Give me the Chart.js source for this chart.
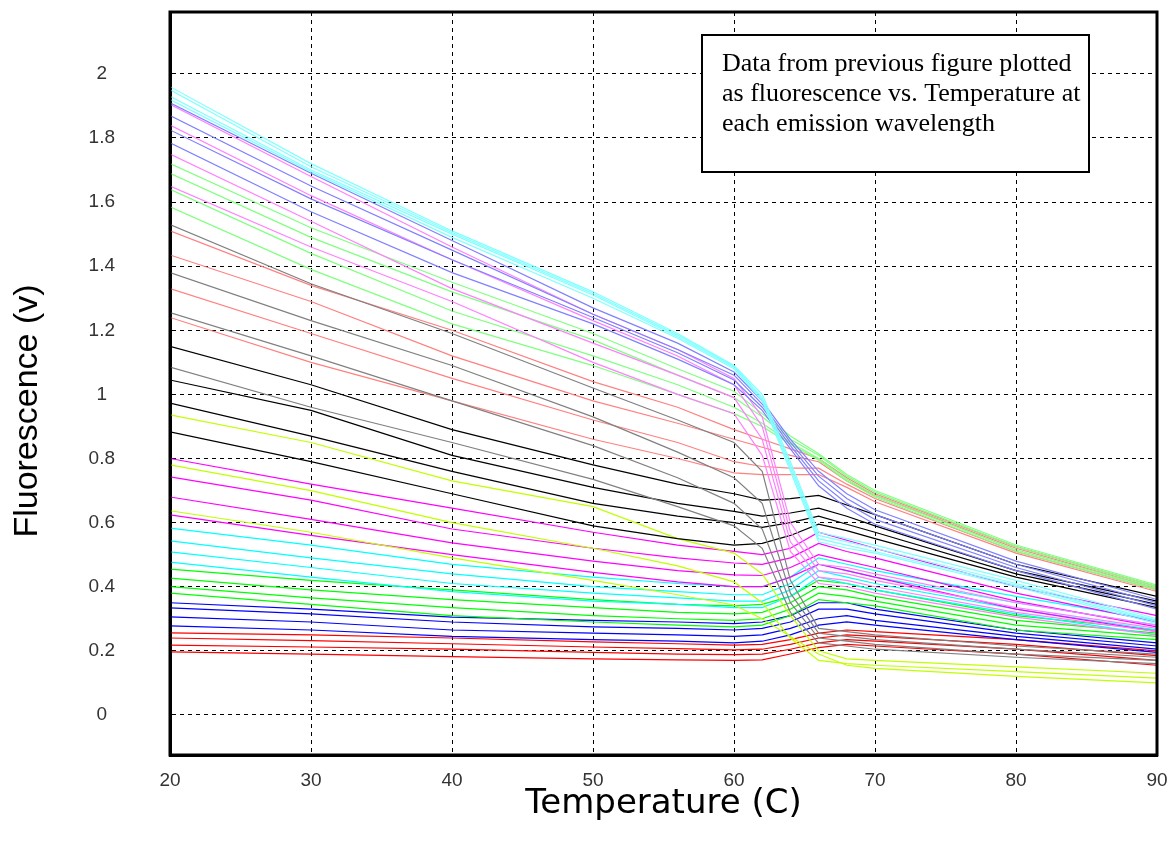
<!DOCTYPE html>
<html lang="en">
<head>
<meta charset="UTF-8">
<title>Fluorescence vs Temperature</title>
<script src="https://cdn.jsdelivr.net/npm/chart.js@4.4.1/dist/chart.umd.min.js"></script>
<style>
  html, body { margin: 0; padding: 0; background: #fff; }
  .chart-container { width: 1173px; height: 841px; }
</style>
</head>
<body>
<div class="chart-container"><canvas id="chart"></canvas></div>
<script>
const temps = [20, 30, 40, 50, 56, 60, 62, 64, 66, 68, 70, 80, 90];

// fluorescence (V), one row per emission wavelength, grouped by line colour
const lightCyan = [
  [1.96, 1.72, 1.51, 1.32, 1.19, 1.09, 1.00, 0.79, 0.57, 0.55, 0.53, 0.42, 0.30],
  [1.95, 1.71, 1.505, 1.315, 1.185, 1.088, 0.99, 0.78, 0.56, 0.54, 0.52, 0.41, 0.295],
  [1.93, 1.70, 1.50, 1.31, 1.18, 1.085, 0.985, 0.77, 0.55, 0.53, 0.51, 0.405, 0.29],
  [1.92, 1.695, 1.49, 1.30, 1.175, 1.08, 0.98, 0.76, 0.54, 0.52, 0.505, 0.40, 0.285]
];
const lightBlue = [
  [1.91, 1.69, 1.48, 1.27, 1.16, 1.07, 0.98, 0.86, 0.76, 0.69, 0.64, 0.48, 0.36],
  [1.87, 1.65, 1.45, 1.25, 1.14, 1.06, 0.97, 0.85, 0.745, 0.675, 0.625, 0.47, 0.35],
  [1.825, 1.61, 1.42, 1.24, 1.13, 1.045, 0.96, 0.84, 0.73, 0.66, 0.61, 0.46, 0.34],
  [1.785, 1.57, 1.38, 1.22, 1.11, 1.03, 0.95, 0.83, 0.715, 0.645, 0.595, 0.45, 0.33]
];
const lightMagenta = [
  [1.905, 1.68, 1.46, 1.25, 1.14, 1.05, 0.93, 0.60, 0.47, 0.46, 0.44, 0.35, 0.28],
  [1.84, 1.62, 1.42, 1.23, 1.12, 1.03, 0.90, 0.57, 0.45, 0.44, 0.42, 0.335, 0.27],
  [1.75, 1.54, 1.33, 1.16, 1.06, 0.99, 0.86, 0.54, 0.43, 0.42, 0.40, 0.32, 0.26],
  [1.65, 1.46, 1.29, 1.10, 1.00, 0.94, 0.81, 0.51, 0.41, 0.40, 0.38, 0.305, 0.25]
];
const lightGreen = [
  [1.72, 1.52, 1.35, 1.19, 1.08, 1.01, 0.94, 0.87, 0.815, 0.75, 0.70, 0.53, 0.405],
  [1.69, 1.49, 1.32, 1.17, 1.06, 0.99, 0.93, 0.86, 0.81, 0.745, 0.695, 0.525, 0.40],
  [1.64, 1.44, 1.26, 1.12, 1.03, 0.96, 0.91, 0.85, 0.80, 0.735, 0.685, 0.515, 0.395],
  [1.585, 1.39, 1.22, 1.09, 1.00, 0.94, 0.90, 0.845, 0.795, 0.73, 0.68, 0.51, 0.39]
];
const gray = [
  [1.53, 1.345, 1.19, 1.02, 0.92, 0.85, 0.76, 0.42, 0.27, 0.26, 0.25, 0.215, 0.19],
  [1.38, 1.23, 1.09, 0.93, 0.82, 0.74, 0.66, 0.38, 0.255, 0.245, 0.235, 0.205, 0.18],
  [1.255, 1.12, 0.98, 0.84, 0.74, 0.66, 0.58, 0.35, 0.24, 0.23, 0.22, 0.19, 0.17],
  [1.085, 0.96, 0.85, 0.735, 0.65, 0.59, 0.52, 0.32, 0.225, 0.215, 0.205, 0.18, 0.16]
];
const lightRed = [
  [1.51, 1.34, 1.20, 1.04, 0.96, 0.89, 0.86, 0.83, 0.80, 0.74, 0.69, 0.525, 0.40],
  [1.435, 1.29, 1.12, 0.98, 0.91, 0.86, 0.835, 0.81, 0.79, 0.73, 0.685, 0.52, 0.395],
  [1.33, 1.19, 1.05, 0.92, 0.85, 0.79, 0.775, 0.77, 0.77, 0.72, 0.675, 0.51, 0.39],
  [1.24, 1.10, 0.98, 0.86, 0.80, 0.755, 0.75, 0.75, 0.75, 0.71, 0.665, 0.505, 0.385]
];
const black = [
  [1.15, 1.03, 0.89, 0.78, 0.72, 0.69, 0.67, 0.675, 0.685, 0.655, 0.625, 0.47, 0.37],
  [1.045, 0.95, 0.81, 0.71, 0.66, 0.635, 0.62, 0.63, 0.645, 0.62, 0.59, 0.45, 0.355],
  [0.973, 0.87, 0.76, 0.66, 0.62, 0.60, 0.585, 0.60, 0.62, 0.595, 0.57, 0.44, 0.345],
  [0.883, 0.79, 0.69, 0.59, 0.55, 0.53, 0.535, 0.56, 0.595, 0.575, 0.55, 0.43, 0.335]
];
const yellowGreen = [
  [0.936, 0.85, 0.73, 0.65, 0.55, 0.505, 0.44, 0.31, 0.20, 0.175, 0.17, 0.15, 0.13],
  [0.78, 0.70, 0.60, 0.52, 0.465, 0.415, 0.35, 0.24, 0.17, 0.16, 0.155, 0.135, 0.115],
  [0.637, 0.57, 0.49, 0.42, 0.375, 0.343, 0.30, 0.245, 0.19, 0.155, 0.145, 0.12, 0.10]
];
const magenta = [
  [0.80, 0.72, 0.645, 0.57, 0.53, 0.51, 0.50, 0.52, 0.57, 0.545, 0.52, 0.40, 0.31],
  [0.743, 0.67, 0.58, 0.52, 0.49, 0.474, 0.47, 0.49, 0.535, 0.51, 0.49, 0.38, 0.29],
  [0.68, 0.61, 0.537, 0.48, 0.45, 0.437, 0.435, 0.46, 0.50, 0.48, 0.46, 0.355, 0.275],
  [0.624, 0.56, 0.50, 0.445, 0.415, 0.40, 0.40, 0.43, 0.47, 0.45, 0.43, 0.33, 0.26]
];
const cyan = [
  [0.583, 0.53, 0.47, 0.43, 0.41, 0.40, 0.40, 0.43, 0.49, 0.47, 0.45, 0.37, 0.295],
  [0.543, 0.49, 0.44, 0.40, 0.385, 0.375, 0.375, 0.41, 0.47, 0.45, 0.43, 0.35, 0.28],
  [0.509, 0.46, 0.41, 0.38, 0.365, 0.355, 0.355, 0.39, 0.45, 0.43, 0.41, 0.33, 0.265],
  [0.477, 0.43, 0.385, 0.355, 0.345, 0.335, 0.335, 0.37, 0.43, 0.41, 0.39, 0.315, 0.25]
];
const green = [
  [0.455, 0.42, 0.39, 0.36, 0.345, 0.34, 0.345, 0.37, 0.42, 0.41, 0.39, 0.31, 0.265],
  [0.427, 0.39, 0.36, 0.335, 0.32, 0.315, 0.32, 0.35, 0.40, 0.39, 0.37, 0.295, 0.255],
  [0.40, 0.365, 0.335, 0.31, 0.30, 0.295, 0.30, 0.33, 0.38, 0.37, 0.355, 0.28, 0.245],
  [0.38, 0.345, 0.31, 0.29, 0.28, 0.275, 0.28, 0.31, 0.36, 0.35, 0.34, 0.265, 0.235]
];
const blue = [
  [0.35, 0.33, 0.305, 0.295, 0.29, 0.285, 0.29, 0.31, 0.35, 0.35, 0.33, 0.265, 0.225],
  [0.334, 0.315, 0.29, 0.275, 0.27, 0.265, 0.27, 0.29, 0.33, 0.33, 0.315, 0.255, 0.215],
  [0.306, 0.29, 0.265, 0.255, 0.25, 0.245, 0.25, 0.27, 0.30, 0.31, 0.295, 0.245, 0.205],
  [0.278, 0.265, 0.245, 0.235, 0.23, 0.225, 0.23, 0.25, 0.28, 0.29, 0.28, 0.235, 0.195]
];
const red = [
  [0.256, 0.25, 0.24, 0.228, 0.222, 0.218, 0.22, 0.235, 0.255, 0.265, 0.26, 0.235, 0.20],
  [0.24, 0.232, 0.222, 0.212, 0.207, 0.203, 0.205, 0.22, 0.24, 0.25, 0.245, 0.22, 0.185],
  [0.218, 0.212, 0.205, 0.195, 0.19, 0.188, 0.19, 0.205, 0.225, 0.235, 0.23, 0.205, 0.17],
  [0.197, 0.19, 0.182, 0.175, 0.172, 0.17, 0.172, 0.19, 0.21, 0.22, 0.215, 0.19, 0.155]
];

const yTicks = [0, 0.2, 0.4, 0.6, 0.8, 1, 1.2, 1.4, 1.6, 1.8, 2];
const yTitle = 'Fluorescence (v)';
const noteLines = [
  'Data from previous figure plotted',
  'as fluorescence vs. Temperature at',
  'each emission wavelength'
];

// colour for each group
const groups = [
  [lightCyan, '#80ffff'],
  [lightBlue, '#8080ff'],
  [lightMagenta, '#ff80ff'],
  [lightGreen, '#80ff80'],
  [gray, '#808080'],
  [lightRed, '#ff8080'],
  [black, '#000000'],
  [yellowGreen, '#c0ff00'],
  [magenta, '#ff00ff'],
  [cyan, '#00ffff'],
  [green, '#00ff00'],
  [blue, '#0000ff'],
  [red, '#ff0000']
];

const datasets = [];
groups.forEach(([lines, color]) => {
  lines.forEach(line => {
    datasets.push({
      data: temps.map((t, i) => ({ x: t, y: line[i] })),
      borderColor: color,
      borderWidth: 1.2,
      pointRadius: 0,
      fill: false,
      tension: 0
    });
  });
});

// black frame round the plot, y title a bit below centre, and the text box
const frameAndNote = {
  id: 'frameAndNote',
  afterDraw(chart) {
    const ctx = chart.ctx;
    const a = chart.chartArea;
    ctx.save();
    ctx.strokeStyle = '#000';
    ctx.lineWidth = 3;
    ctx.strokeRect(a.left, a.top, a.right - a.left, a.bottom - a.top);

    ctx.save();
    ctx.translate(28, 411);
    ctx.rotate(-Math.PI / 2);
    ctx.fillStyle = '#000';
    ctx.font = '34px "Liberation Sans", Arial, sans-serif';
    ctx.textAlign = 'center';
    ctx.textBaseline = 'middle';
    ctx.fillText(yTitle, 0, 0);
    ctx.restore();

    ctx.fillStyle = '#fff';
    ctx.fillRect(702, 35, 387, 137);
    ctx.lineWidth = 2;
    ctx.strokeRect(702, 35, 387, 137);
    ctx.fillStyle = '#000';
    ctx.font = '26px "Liberation Serif", "Times New Roman", serif';
    ctx.textBaseline = 'alphabetic';
    noteLines.forEach((txt, i) => ctx.fillText(txt, 722, 71 + i * 30));
    ctx.restore();
  }
};

new Chart(document.getElementById('chart'), {
  type: 'line',
  data: { datasets: datasets },
  options: {
    responsive: true,
    maintainAspectRatio: false,
    animation: false,
    layout: { padding: { top: 12, right: 16, left: 0, bottom: 0 } },
    plugins: {
      legend: { display: false },
      tooltip: { enabled: false }
    },
    scales: {
      x: {
        type: 'linear',
        min: 20,
        max: 90,
        ticks: {
          stepSize: 10,
          padding: 14,
          color: '#333',
          font: { family: 'Liberation Sans', size: 19 }
        },
        grid: { color: '#000', lineWidth: 1, drawTicks: false, tickLength: 0 },
        border: { display: true, color: '#000', width: 3, dash: [4, 4] },
        title: {
          display: true,
          text: 'Temperature (C)',
          color: '#000',
          font: { family: 'DejaVu Sans', size: 34 },
          padding: { top: 0, bottom: 16 }
        },
        afterFit: s => {
          s.height = 86;
          s.paddingLeft = 0;
          s.paddingRight = 0;
        }
      },
      y: {
        type: 'linear',
        min: -0.125,
        max: 2.193,
        afterBuildTicks: s => { s.ticks = yTicks.map(v => ({ value: v })); },
        ticks: {
          padding: 55,
          crossAlign: 'center',
          color: '#333',
          font: { family: 'Liberation Sans', size: 19 },
          callback: v => String(Math.round(v * 10) / 10)
        },
        grid: { color: '#000', lineWidth: 1, drawTicks: false, tickLength: 0 },
        border: { display: true, color: '#000', width: 3, dash: [4, 4] },
        title: { display: false },
        afterFit: s => {
          s.width = 170;
          s.paddingTop = 0;
          s.paddingBottom = 0;
        }
      }
    }
  },
  plugins: [frameAndNote]
});
</script>
</body>
</html>
